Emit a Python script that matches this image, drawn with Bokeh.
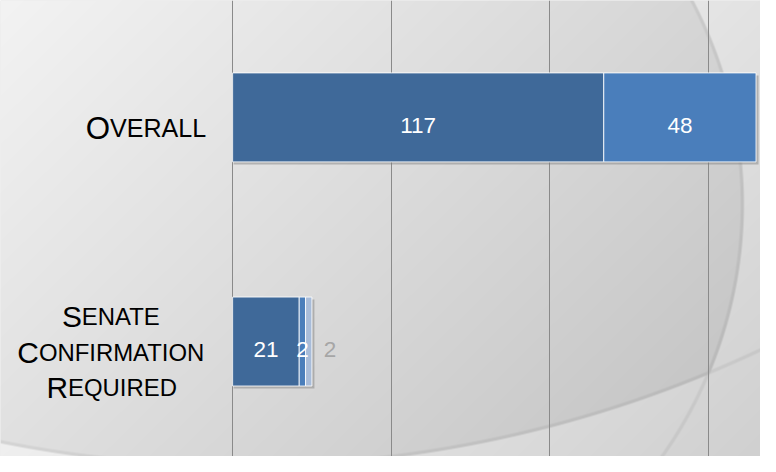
import numpy as np
from bokeh.plotting import figure
from bokeh.models import Range1d, FixedTicker
from bokeh.core.properties import value
from bokeh.embed import file_html
from bokeh.resources import INLINE

# ---------------- data ----------------
categories = ["Overall", "Senate Confirmation Required"]
category_lines = [["Overall"], ["Senate", "Confirmation", "Required"]]
series_a = [117, 21]
series_b = [48, 2]
series_c = [0, 2]
grid_ticks = [0, 50, 100, 150]

# ---------------- layout / style ----------------
W, H = 760, 456
SX = W / 776.0
SY = H / 472.0
ZERO_PX = 237 * SX           # figure px of x = 0
PPU = 3.239 * SX             # px per unit on x
X0 = -ZERO_PX / PPU
X1 = (W - ZERO_PX) / PPU
Y_PPU = 232.0 * SY
Y1 = 1.5 + (121 * SY) / Y_PPU
Y0 = 0.5 - (H - 353 * SY) / Y_PPU
BAR_H = 0.397

COL_A = "#3f6999"
COL_B = "#4a7ebb"
COL_C = "#a8bcd9"
FONT = "Liberation Sans"
label_big = [32 * SX, 30.5 * SX]
label_small = [25.6 * SX, 24.4 * SX]
LINE_STEP = 37 * SY
BASE_OFF = 11 * SY
NUM_SIZE = 23 * SX

p = figure(width=W, height=H, x_range=Range1d(X0, X1), y_range=Range1d(Y0, Y1),
           output_backend="svg", toolbar_location=None, min_border=0,
           background_fill_color="#dedede", border_fill_color="#dedede")
p.outline_line_color = None
p.xaxis.visible = False
p.yaxis.visible = False
p.xaxis.ticker = FixedTicker(ticks=grid_ticks)
p.xgrid.ticker = FixedTicker(ticks=grid_ticks)
p.xgrid.grid_line_color = "#8a8a8a"
p.xgrid.grid_line_width = 1
p.ygrid.visible = False

# ---------------- background (gradient + arcs), in reference px ----------------
px = (np.arange(W) + 0.5) / SX
py = (np.arange(H) + 0.5) / SY
PX, PY = np.meshgrid(px, py)
base = 243 - 0.04 * PX - 0.04 * PY
d1 = np.hypot(PX - 301, PY - 211)
d2 = np.hypot(PX - 246, PY + 750)
in1 = np.clip(458 - d1 + 0.5, 0, 1)
in2 = np.clip(1233 - d2 + 0.5, 0, 1)
inside = in1 * in2
v = base + 15 * (1 - inside)
rim1 = np.clip(2.2 - np.abs(d1 - 456.5), 0, 1)
rim2 = np.clip(2.2 - np.abs(d2 - 1231.5), 0, 1)
v = v - 12 * np.maximum(rim1, rim2)
v = np.clip(v, 0, 255).astype(np.uint8)
rgba = np.zeros((H, W, 4), dtype=np.uint8)
rgba[..., 0] = v
rgba[..., 1] = v
rgba[..., 2] = v
rgba[..., 3] = 255
img = rgba.view(np.uint32).reshape(H, W)[::-1]
p.image_rgba(image=[img], x=X0, y=Y0, dw=X1 - X0, dh=Y1 - Y0, level="image")

# ---------------- bars ----------------
n = len(categories)
ypos = [n - 0.5 - i for i in range(n)]
segments = []
for i in range(n):
    left = 0
    for vals, col, kind in ((series_a, COL_A, "in"), (series_b, COL_B, "in"), (series_c, COL_C, "out")):
        val = vals[i]
        if val > 0:
            segments.append((ypos[i], left, left + val, col, kind, val))
        left += val

# shadow
sdx = 2.5 / PPU
sdy = 2.5 / Y_PPU
for i in range(n):
    tot = series_a[i] + series_b[i] + series_c[i]
    p.hbar(y=[ypos[i] - sdy], left=[sdx * 0.4], right=[tot + sdx], height=BAR_H,
           fill_color="#7a7a7a", fill_alpha=0.45, line_color=None)

p.hbar(y=[s[0] for s in segments], left=[s[1] for s in segments], right=[s[2] for s in segments],
       height=BAR_H, fill_color=[s[3] for s in segments], line_color="white", line_alpha=0.85,
       line_width=1)

# value labels
for (y, l, r, col, kind, val) in segments:
    if kind == "in":
        p.text(x=[(l + r) / 2], y=[y], text=[str(val)], text_align="center",
               text_baseline="alphabetic", y_offset=8 * SY, text_color="white",
               text_font=value(FONT), text_font_size=value(f"{NUM_SIZE:.1f}px"))
    else:
        p.text(x=[r], y=[y], text=[str(val)], text_align="left", x_offset=12 * SX,
               text_baseline="alphabetic", y_offset=8 * SY, text_color="#a6a6a6",
               text_font=value(FONT), text_font_size=value(f"{NUM_SIZE:.1f}px"))

# ---------------- category labels (small caps) ----------------
AW = {'A': 667, 'B': 667, 'C': 722, 'D': 722, 'E': 667, 'F': 611, 'G': 778, 'H': 722,
      'I': 278, 'J': 500, 'K': 667, 'L': 556, 'M': 833, 'N': 722, 'O': 778, 'P': 667,
      'Q': 778, 'R': 722, 'S': 667, 'T': 611, 'U': 722, 'V': 667, 'W': 944, 'X': 667,
      'Y': 667, 'Z': 611, ' ': 278}


def tw(s, size):
    return sum(AW.get(c, 600) for c in s) / 1000.0 * size


BLOCK_RIGHT = (210 - 237) * SX  # px offset from x=0
for i in range(n):
    lines = category_lines[i]
    big, small = label_big[i], label_small[i]
    widths = [tw(ln[0].upper(), big) + tw(ln[1:].upper(), small) for ln in lines]
    bw = max(widths)
    cx = BLOCK_RIGHT - bw / 2
    m = len(lines)
    for k, ln in enumerate(lines):
        yo = BASE_OFF + (k - (m - 1) / 2) * LINE_STEP
        start = cx - widths[k] / 2
        first, rest = ln[0].upper(), ln[1:].upper()
        p.text(x=[0], y=[ypos[i]], text=[first], text_align="left", x_offset=start,
               y_offset=yo, text_baseline="alphabetic", text_color="black",
               text_font=value(FONT), text_font_size=value(f"{big:.1f}px"))
        p.text(x=[0], y=[ypos[i]], text=[rest], text_align="left",
               x_offset=start + tw(first, big), y_offset=yo, text_baseline="alphabetic",
               text_color="black", text_font=value(FONT), text_font_size=value(f"{small:.1f}px"))

open("out.html", "w").write(file_html(p, INLINE))
